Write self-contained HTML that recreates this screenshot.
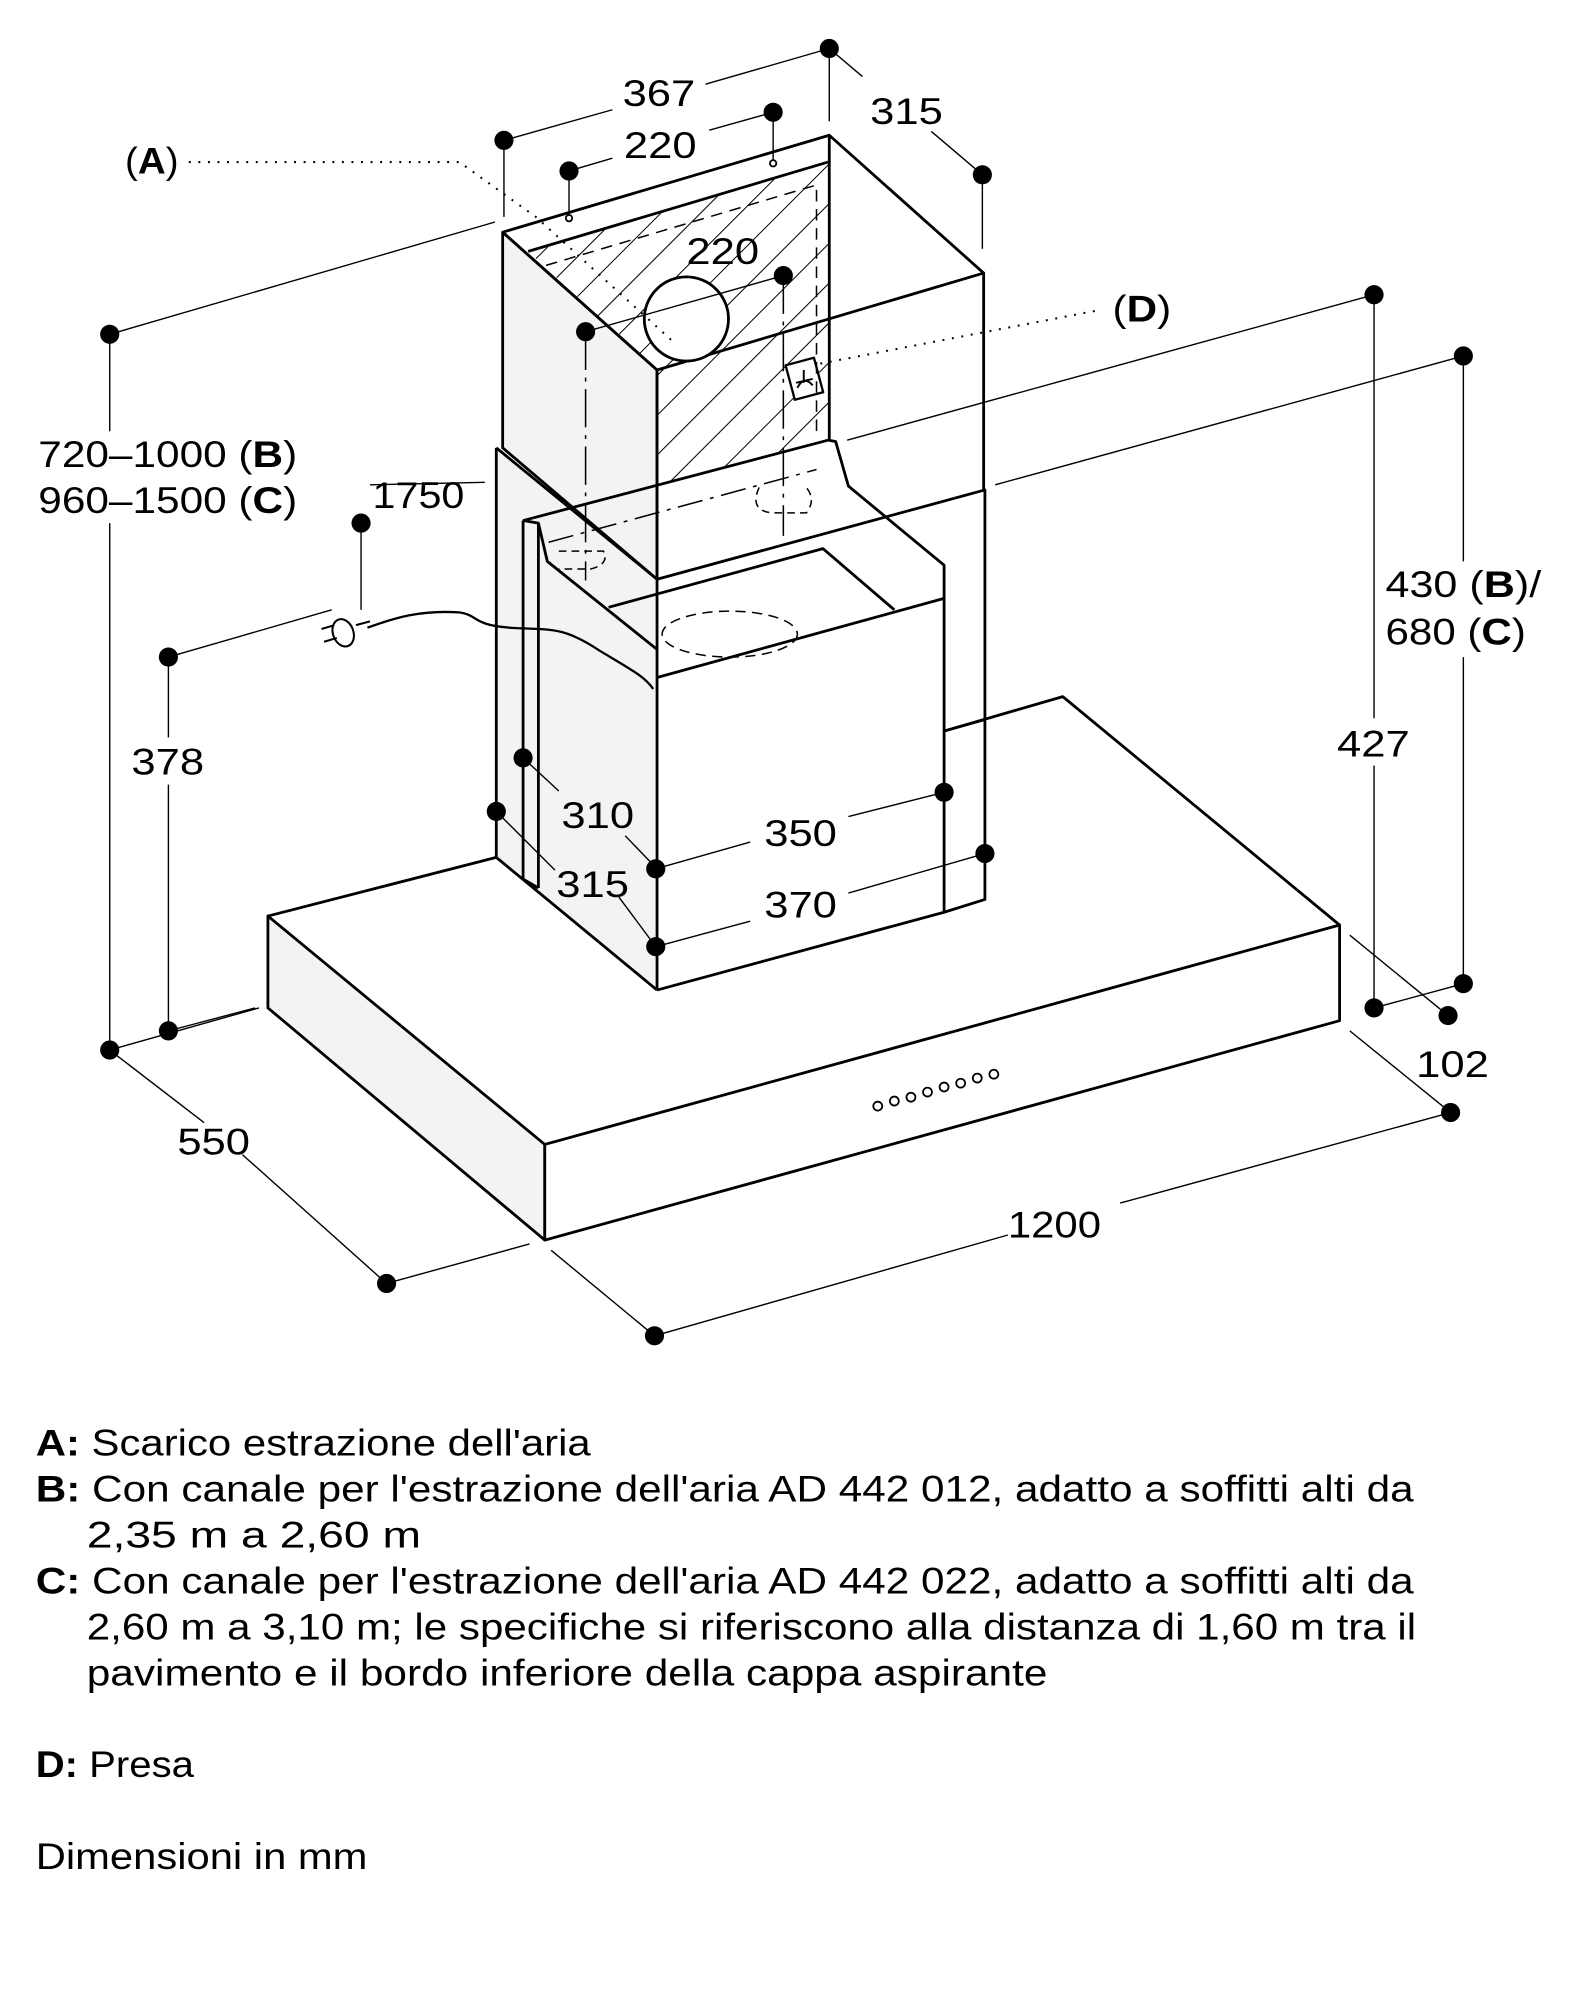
<!DOCTYPE html>
<html><head><meta charset="utf-8"><style>
html,body{margin:0;padding:0;background:#fff}
svg{display:block}
</style></head><body>
<svg width="1582" height="2000" viewBox="0 0 1240 1567.6" xmlns="http://www.w3.org/2000/svg" font-family="Liberation Sans, sans-serif">
<defs>
<pattern id="h" patternUnits="userSpaceOnUse" width="22" height="22" patternTransform="rotate(45)">
<line x1="0" y1="0" x2="0" y2="22" stroke="#000" stroke-width="1.6"/>
</pattern>
</defs>
<rect width="1240" height="1568" fill="#fff"/>
<g fill="none" stroke="#000" stroke-width="2.2" stroke-linejoin="round">
<polygon points="210,718 427,897 427,972 210,790" fill="#f3f3f3"/>
<polygon points="427,897 1050,725 1050,800 427,972" fill="#fff"/>
<polyline points="210,718 389,672"/>
<polyline points="740,573 833,546 1050,725"/>
<polygon points="389,351 515,454 515,776 389,672" fill="#f3f3f3" stroke="none"/>
<polyline points="389,351 389,672"/>
<polyline points="389,351 515,454"/>
<polyline points="389,672 515,776"/>
<polygon points="394,182 515,290 515,454 394,351" fill="#f3f3f3"/>
<polygon points="414,197 649,127 649,345 515,380 515,290" fill="url(#h)" stroke="none"/>
<polyline points="394,182 650,106 771,214 515,290 394,182"/>
<polyline points="414,197 649,127"/>
<polyline points="650,106 650,345"/>
<polyline points="771,214 771,384"/>
<polyline points="515,290 515,776"/>
<circle cx="538" cy="250" r="33" fill="#fff"/>
<polyline points="515,454 772,384 772,705 740,715"/>
<polyline points="410,408 649,345 655,346 665,381 740,443 740,715 515,776"/>
<polyline points="410,408 410,689 422,696"/>
<polyline points="422,410 422,696"/>
<polyline points="410,408 422,410 429,440 515,509"/>
<polyline points="515,531 740,469"/>
<polyline points="477,476 645,430 701,478"/>
<polyline points="740,573 772,564"/>
<rect x="619" y="283" width="23" height="28" fill="#fff" stroke-width="1.8" transform="rotate(-15 630 297)"/>
</g>
<g stroke="#000" stroke-width="1.5" fill="none">
<path d="M625 304 q5 -10 12 -2"/><line x1="630" y1="290" x2="630" y2="300"/><line x1="624" y1="300" x2="637" y2="297"/>
</g>
<g fill="none" stroke="#000" stroke-width="1.2">
<polyline points="428,208 640,145 640,340" stroke-dasharray="9,6"/>
<ellipse cx="572" cy="497" rx="53" ry="18" stroke-dasharray="8,5"/>
<line x1="430" y1="425" x2="640" y2="368" stroke-dasharray="20,6,3,6"/>
<path d="M438 432 h35 q5 10 -10 14 h-25" stroke-dasharray="6,4"/>
<path d="M595 382 q-8 18 10 20 h27 q8 -10 0 -20" stroke-dasharray="6,4"/>
<line x1="459" y1="260" x2="459" y2="455" stroke-dasharray="30,6,3,6"/>
<line x1="614" y1="216" x2="614" y2="420" stroke-dasharray="30,6,3,6"/>
<path d="M288 492 C310 484 330 478 360 480 C375 482 370 490 400 492 C430 494 440 490 470 510 C495 525 505 530 512 540" stroke-width="1.8"/>
<g stroke-width="1.6"><ellipse cx="269" cy="496" rx="8" ry="11" transform="rotate(-20 269 496)" fill="#fff"/><line x1="252" y1="493" x2="262" y2="490"/><line x1="254" y1="503" x2="264" y2="500"/><line x1="279" y1="490" x2="290" y2="487"/></g>
</g>
<g stroke="#000" stroke-width="1.1" fill="none">
<line x1="86" y1="262" x2="388" y2="174"/>
<line x1="86" y1="262" x2="86" y2="338"/><line x1="86" y1="410" x2="86" y2="823"/>
<line x1="86" y1="823" x2="203" y2="790"/>
<line x1="86" y1="823" x2="160" y2="880"/><line x1="190" y1="905" x2="303" y2="1006"/>
<line x1="303" y1="1006" x2="415" y2="975"/>
<line x1="132" y1="515" x2="132" y2="578"/><line x1="132" y1="615" x2="132" y2="808"/>
<line x1="132" y1="515" x2="260" y2="478"/>
<line x1="132" y1="808" x2="200" y2="790"/>
<line x1="283" y1="410" x2="283" y2="478"/>
<line x1="395" y1="110" x2="480" y2="86"/><line x1="553" y1="66" x2="650" y2="38"/>
<line x1="395" y1="110" x2="395" y2="170"/>
<line x1="446" y1="134" x2="480" y2="124"/><line x1="556" y1="102" x2="606" y2="88"/>
<line x1="446" y1="134" x2="446" y2="168"/><line x1="606" y1="88" x2="606" y2="125"/>
<line x1="650" y1="38" x2="650" y2="95"/><line x1="650" y1="38" x2="676" y2="60"/>
<line x1="730" y1="103" x2="770" y2="137"/><line x1="770" y1="137" x2="770" y2="195"/>
<line x1="459" y1="260" x2="614" y2="216"/>
<line x1="290" y1="380" x2="380" y2="378"/>
<line x1="664" y1="345" x2="1077" y2="231"/>
<line x1="780" y1="380" x2="1147" y2="279"/>
<line x1="1077" y1="231" x2="1077" y2="563"/><line x1="1077" y1="600" x2="1077" y2="790"/>
<line x1="1147" y1="279" x2="1147" y2="440"/><line x1="1147" y1="515" x2="1147" y2="771"/>
<line x1="1077" y1="790" x2="1147" y2="771"/>
<line x1="1058" y1="733" x2="1135" y2="796"/>
<line x1="1058" y1="808" x2="1137" y2="872"/>
<line x1="1137" y1="872" x2="878" y2="943"/><line x1="790" y1="968" x2="513" y2="1047"/>
<line x1="513" y1="1047" x2="432" y2="980"/>
<line x1="410" y1="594" x2="438" y2="620"/><line x1="490" y1="655" x2="514" y2="680"/>
<line x1="389" y1="636" x2="435" y2="682"/><line x1="485" y1="703" x2="514" y2="742"/>
<line x1="514" y1="681" x2="588" y2="660"/><line x1="665" y1="640" x2="740" y2="621"/>
<line x1="514" y1="742" x2="588" y2="722"/><line x1="665" y1="700" x2="772" y2="669"/>
</g>
<g stroke="#000" stroke-width="1.6" stroke-dasharray="1.5,6" fill="none">
<polyline points="148,127 360,127 420,170 530,270"/>
<line x1="643" y1="285" x2="862" y2="243"/>
</g>
<g fill="#000">
<circle cx="86" cy="262" r="7.5"/><circle cx="86" cy="823" r="7.5"/><circle cx="132" cy="515" r="7.5"/><circle cx="132" cy="808" r="7.5"/>
<circle cx="303" cy="1006" r="7.5"/><circle cx="513" cy="1047" r="7.5"/><circle cx="1137" cy="872" r="7.5"/><circle cx="1135" cy="796" r="7.5"/>
<circle cx="1077" cy="790" r="7.5"/><circle cx="1147" cy="771" r="7.5"/><circle cx="1077" cy="231" r="7.5"/><circle cx="1147" cy="279" r="7.5"/>
<circle cx="283" cy="410" r="7.5"/><circle cx="395" cy="110" r="7.5"/><circle cx="446" cy="134" r="7.5"/><circle cx="606" cy="88" r="7.5"/>
<circle cx="650" cy="38" r="7.5"/><circle cx="770" cy="137" r="7.5"/><circle cx="459" cy="260" r="7.5"/><circle cx="614" cy="216" r="7.5"/>
<circle cx="410" cy="594" r="7.5"/><circle cx="389" cy="636" r="7.5"/><circle cx="514" cy="681" r="7.5"/><circle cx="514" cy="742" r="7.5"/>
<circle cx="740" cy="621" r="7.5"/><circle cx="772" cy="669" r="7.5"/>
</g>
<g fill="none" stroke="#000" stroke-width="1.4">
<circle cx="446" cy="171" r="2.5"/><circle cx="606" cy="128" r="2.5"/>
<circle cx="688" cy="867" r="3.5"/><circle cx="701" cy="863" r="3.5"/><circle cx="714" cy="860" r="3.5"/><circle cx="727" cy="856" r="3.5"/><circle cx="740" cy="852" r="3.5"/><circle cx="753" cy="849" r="3.5"/><circle cx="766" cy="845" r="3.5"/><circle cx="779" cy="842" r="3.5"/>
</g>
<g font-size="29" fill="#000" lengthAdjust="spacingAndGlyphs">
<text x="98" y="136" textLength="42" lengthAdjust="spacingAndGlyphs">(<tspan font-weight="bold">A</tspan>)</text>
<text x="872" y="252" textLength="46" lengthAdjust="spacingAndGlyphs">(<tspan font-weight="bold">D</tspan>)</text>
<text x="488" y="83" textLength="57" lengthAdjust="spacingAndGlyphs">367</text>
<text x="682" y="97" textLength="57" lengthAdjust="spacingAndGlyphs">315</text>
<text x="489" y="124" textLength="57" lengthAdjust="spacingAndGlyphs">220</text>
<text x="538" y="207" textLength="57" lengthAdjust="spacingAndGlyphs">220</text>
<text x="30" y="366" textLength="203" lengthAdjust="spacingAndGlyphs">720–1000 (<tspan font-weight="bold">B</tspan>)</text>
<text x="30" y="402" textLength="203" lengthAdjust="spacingAndGlyphs">960–1500 (<tspan font-weight="bold">C</tspan>)</text>
<text x="292" y="398" textLength="72" lengthAdjust="spacingAndGlyphs">1750</text>
<text x="103" y="607" textLength="57" lengthAdjust="spacingAndGlyphs">378</text>
<text x="440" y="649" textLength="57" lengthAdjust="spacingAndGlyphs">310</text>
<text x="436" y="703" textLength="57" lengthAdjust="spacingAndGlyphs">315</text>
<text x="599" y="663" textLength="57" lengthAdjust="spacingAndGlyphs">350</text>
<text x="599" y="719" textLength="57" lengthAdjust="spacingAndGlyphs">370</text>
<text x="1086" y="468" textLength="122" lengthAdjust="spacingAndGlyphs">430 (<tspan font-weight="bold">B</tspan>)/</text>
<text x="1086" y="505" textLength="110" lengthAdjust="spacingAndGlyphs">680 (<tspan font-weight="bold">C</tspan>)</text>
<text x="1048" y="593" textLength="57" lengthAdjust="spacingAndGlyphs">427</text>
<text x="1110" y="844" textLength="57" lengthAdjust="spacingAndGlyphs">102</text>
<text x="139" y="905" textLength="57" lengthAdjust="spacingAndGlyphs">550</text>
<text x="790" y="970" textLength="73" lengthAdjust="spacingAndGlyphs">1200</text>
</g>
<g font-size="29" fill="#000">
<text x="28" y="1141" textLength="435" lengthAdjust="spacingAndGlyphs"><tspan font-weight="bold">A:</tspan> Scarico estrazione dell'aria</text>
<text x="28" y="1177" textLength="1080" lengthAdjust="spacingAndGlyphs"><tspan font-weight="bold">B:</tspan> Con canale per l'estrazione dell'aria AD 442 012, adatto a soffitti alti da</text>
<text x="68" y="1213" textLength="262" lengthAdjust="spacingAndGlyphs">2,35 m a 2,60 m</text>
<text x="28" y="1249" textLength="1080" lengthAdjust="spacingAndGlyphs"><tspan font-weight="bold">C:</tspan> Con canale per l'estrazione dell'aria AD 442 022, adatto a soffitti alti da</text>
<text x="68" y="1285" textLength="1042" lengthAdjust="spacingAndGlyphs">2,60 m a 3,10 m; le specifiche si riferiscono alla distanza di 1,60 m tra il</text>
<text x="68" y="1321" textLength="753" lengthAdjust="spacingAndGlyphs">pavimento e il bordo inferiore della cappa aspirante</text>
<text x="28" y="1393" textLength="124" lengthAdjust="spacingAndGlyphs"><tspan font-weight="bold">D:</tspan> Presa</text>
<text x="28" y="1465" textLength="260" lengthAdjust="spacingAndGlyphs">Dimensioni in mm</text>
</g>
</svg>
</body></html>
